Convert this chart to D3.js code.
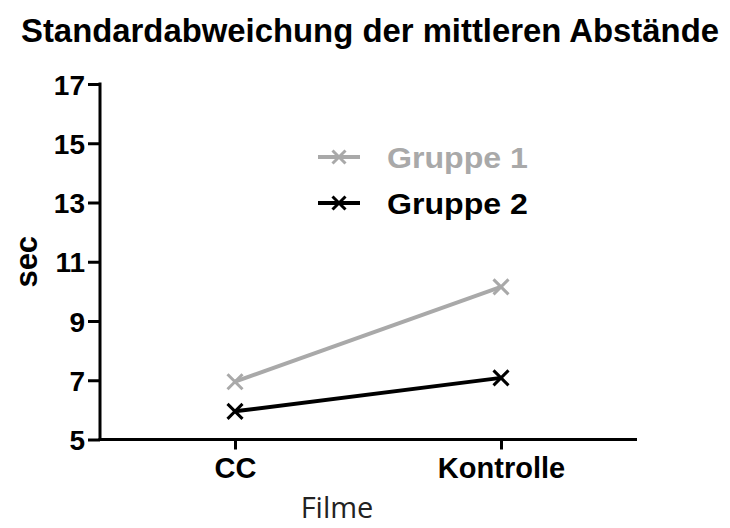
<!DOCTYPE html>
<html><head><meta charset="utf-8">
<script src="https://cdn.jsdelivr.net/npm/d3@7"></script>
<style>body{margin:0;background:#fff}svg{display:block}</style>
</head><body>
<svg id="c" width="730" height="528"></svg>
<script>
const categories = ["CC", "Kontrolle"];
const seriesNames = ["Gruppe 1", "Gruppe 2"];
const gruppe1 = [6.95, 10.15];
const gruppe2 = [5.95, 7.08];
const yTicks = [5, 7, 9, 11, 13, 15, 17];
const colors = ["#a9a9a9", "#000000"];

const svg = d3.select("#c");
const font = "'Liberation Sans', Arial, sans-serif";
const x = d3.scalePoint().domain(categories).range([235, 501]);
const y = d3.scaleLinear().domain([5, 17]).range([439.5, 84]);

svg.append("text").attr("x", 370).attr("y", 42).attr("text-anchor", "middle")
  .attr("font-family", font).attr("font-weight", "bold").attr("font-size", 33)
  .attr("textLength", 698).attr("lengthAdjust", "spacingAndGlyphs")
  .text("Standardabweichung der mittleren Abstände");

// y axis
const ya = svg.append("g").attr("transform", "translate(100,0)")
  .call(d3.axisLeft(y).tickValues(yTicks).tickSize(12).tickPadding(3).tickFormat(d3.format("d")));
ya.select(".domain").attr("stroke-width", 3).attr("d", `M0,${y(17)-1.5}V${y(5)+1.5}`);
ya.selectAll(".tick line").attr("stroke-width", 3);
ya.selectAll(".tick text").attr("font-family", font).attr("font-weight", "bold").attr("font-size", 28).attr("fill", "#000").attr("dy", "0.36em");

// x axis
const xa = svg.append("g").attr("transform", `translate(0,${y(5)})`)
  .call(d3.axisBottom(x).tickSize(10).tickPadding(8));
xa.select(".domain").attr("stroke-width", 3).attr("d", "M98.5,0H637");
xa.selectAll(".tick line").attr("stroke-width", 3);
xa.selectAll(".tick text").attr("font-family", font).attr("font-weight", "bold").attr("font-size", 29).attr("fill", "#000");

svg.append("text").attr("transform", `translate(37,${(y(5)+y(17))/2}) rotate(-90)`)
  .attr("text-anchor", "middle").attr("font-family", font).attr("font-weight", "bold").attr("font-size", 31)
  .text("sec");
svg.append("text").attr("x", 337).attr("y", 518).attr("text-anchor", "middle")
  .attr("font-family", "'Open Sans', 'Noto Sans', sans-serif").attr("font-size", 29).attr("fill", "#222")
  .text("Filme");

const line = d3.line().x((d, i) => x(categories[i])).y(d => y(d));
function cross(g, cx, cy, s, col) {
  g.append("path").attr("d", `M${cx-s},${cy-s}L${cx+s},${cy+s}M${cx-s},${cy+s}L${cx+s},${cy-s}`)
    .attr("stroke", col).attr("stroke-width", 3).attr("fill", "none");
}
[gruppe1, gruppe2].forEach((vals, k) => {
  const g = svg.append("g");
  g.append("path").datum(vals).attr("d", line).attr("fill", "none")
    .attr("stroke", colors[k]).attr("stroke-width", 4);
  vals.forEach((v, i) => cross(g, x(categories[i]), y(v), 7.5, colors[k]));
});

// legend
seriesNames.forEach((n, k) => {
  const ly = 157 + k * 46;
  const g = svg.append("g");
  g.append("line").attr("x1", 318).attr("x2", 360).attr("y1", ly).attr("y2", ly)
    .attr("stroke", colors[k]).attr("stroke-width", 4);
  cross(g, 339, ly, 6.5, colors[k]);
  g.append("text").attr("x", 387).attr("y", ly + 11).attr("font-family", font).attr("font-weight", "bold")
    .attr("font-size", 29).attr("textLength", 141).attr("lengthAdjust", "spacingAndGlyphs")
    .attr("fill", colors[k]).text(n);
});
</script>
</body></html>
